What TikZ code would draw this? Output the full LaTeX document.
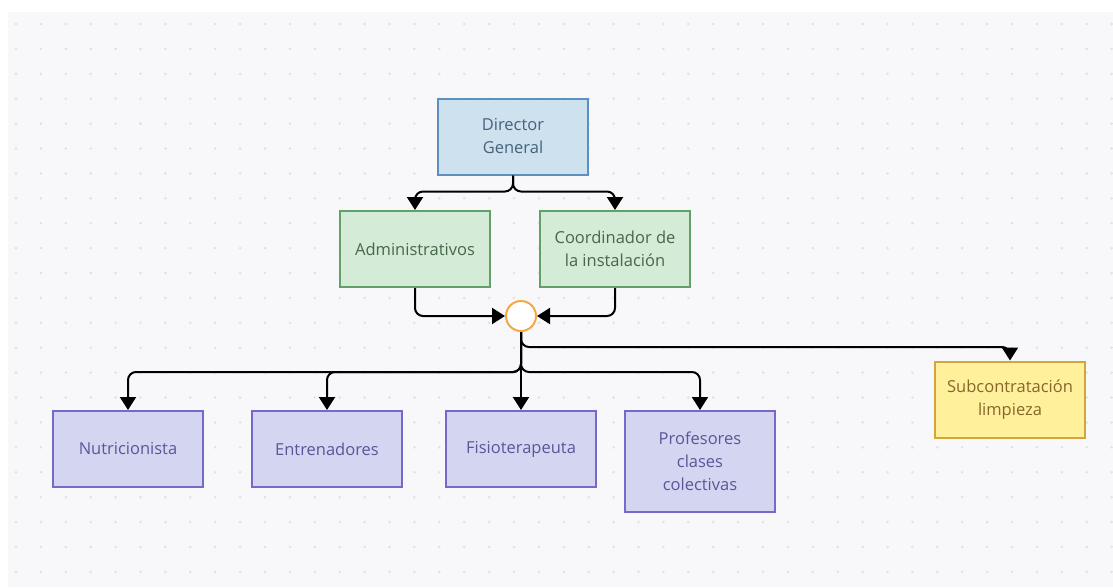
\documentclass[tikz,border=0pt]{standalone}
\usepackage{fontspec}
\setmainfont{Open Sans}
\usetikzlibrary{arrows.meta}
\definecolor{bgc}{HTML}{F8F8FA}
\definecolor{dotc}{HTML}{E1E1E5}
\definecolor{bluefill}{HTML}{CEE1EF}
\definecolor{blueline}{HTML}{5E90BF}
\definecolor{bluetext}{HTML}{46637C}
\definecolor{greenfill}{HTML}{D3EBD7}
\definecolor{greenline}{HTML}{63A067}
\definecolor{greentext}{HTML}{48664A}
\definecolor{lavfill}{HTML}{D4D6F1}
\definecolor{lavline}{HTML}{7669CC}
\definecolor{lavtext}{HTML}{575799}
\definecolor{yelfill}{HTML}{FFF09C}
\definecolor{yelline}{HTML}{D5A43D}
\definecolor{yeltext}{HTML}{88662B}
\definecolor{hubline}{HTML}{F5A945}

\begin{document}
\begin{tikzpicture}[x=1pt,y=-1pt]
\tikzstyle{every node}+=[inner sep=0pt]
\tikzstyle{box}=[draw, line width=2pt, minimum width=150pt, minimum height=76pt, align=center, font=\fontsize{16.5}{23}\selectfont]
\tikzstyle{bluebox}=[box, fill=bluefill, draw=blueline, text=bluetext]
\tikzstyle{greenbox}=[box, fill=greenfill, draw=greenline, text=greentext]
\tikzstyle{lavbox}=[box, fill=lavfill, draw=lavline, text=lavtext]
\tikzstyle{yelbox}=[box, fill=yelfill, draw=yelline, text=yeltext]
\tikzstyle{conn}=[draw=black, line width=2pt, rounded corners=8pt, -{Triangle[length=13pt,width=16pt]}]
\useasboundingbox (0,0) rectangle (1113,587);
\fill[white] (0,0) rectangle (1113,587);
\fill[bgc] (8,12) rectangle (1113,587);
\foreach \i in {0,...,44}
  \foreach \j in {0,...,22}
    \fill[dotc] (16+24.9*\i, 24+24.9*\j) circle (1.4);

% top levels
\node[bluebox] (dg) at (513,136.5) {Director\\General};
\node[greenbox] (adm) at (415,249) {Administrativos};
\node[greenbox] (coord) at (615,249) {Coordinador de\\la instalación};
\node[draw=hubline, fill=white, line width=2pt, circle, minimum size=30pt] (hub) at (521,316) {};

% staff
\node[lavbox] (nut) at (128,449) {Nutricionista};
\node[lavbox] (ent) at (327,449) {Entrenadores};
\node[lavbox] (fis) at (521,449) {Fisioterapeuta};
\node[lavbox, minimum height=101pt] (prof) at (700,461.5) {Profesores\\clases\\colectivas};
\node[yelbox] (sub) at (1010,399.5) {Subcontratación\\limpieza};

% connectors
\draw[conn] (dg.south) -- ++(0,16) -| (adm.north);
\draw[conn] (dg.south) -- ++(0,16) -| (coord.north);
\draw[conn] (adm.south) |- (hub.west);
\draw[conn] (coord.south) |- (hub.east);
\draw[conn] (hub.south) -- ++(0,15) -| (sub.north);
\draw[conn] (hub.south) -- ++(0,40) -| (nut.north);
\draw[conn] (hub.south) -- ++(0,40) -| (ent.north);
\draw[conn] (hub.south) -- ++(0,40) -| (prof.north);
\draw[conn] (hub.south) -- (fis.north);
\end{tikzpicture}
\end{document}
